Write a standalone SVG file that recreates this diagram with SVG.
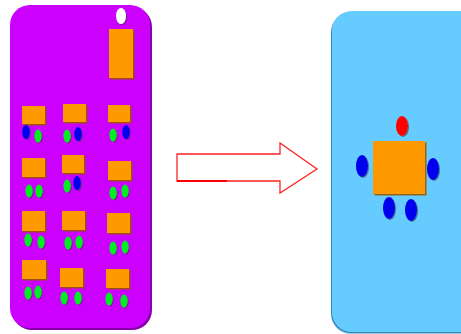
<svg xmlns="http://www.w3.org/2000/svg" width="461" height="334" viewBox="0 0 461 334">
  <style>
    .tbl { fill: #FF9900; filter: url(#sh); }
    .g { fill: #00EE22; filter: url(#shs); }
    .b { fill: #0000EE; filter: url(#shs); }
    .r { fill: #FF0000; filter: url(#shs); }
    .w { fill: #FFFFFF; filter: url(#shs); }
  </style>
  <defs>
    <filter id="sh" x="-20%" y="-20%" width="150%" height="150%">
      <feDropShadow dx="1.5" dy="1.5" stdDeviation="0.2" flood-color="#995500" flood-opacity="0.9"/>
    </filter>
    <filter id="shs" x="-40%" y="-30%" width="200%" height="170%">
      <feDropShadow dx="1" dy="1" stdDeviation="0.4" flood-color="#333333" flood-opacity="0.6"/>
    </filter>
    <filter id="psh" x="-5%" y="-5%" width="115%" height="115%">
      <feDropShadow dx="2" dy="2" stdDeviation="0.3" flood-color="#8800AA" flood-opacity="1"/>
    </filter>
    <filter id="bsh" x="-5%" y="-5%" width="115%" height="115%">
      <feDropShadow dx="-1" dy="1.5" stdDeviation="0.3" flood-color="#3388BB" flood-opacity="1"/>
    </filter>
  </defs>

  <rect width="461" height="334" fill="#FFFFFF"/>

  <!-- before: room with scattered tables -->
  <g id="room-before">
    <rect x="10" y="5" width="140" height="323" rx="20" ry="20" fill="#CC00FF" filter="url(#psh)"/>
    <ellipse class="w" cx="121" cy="16" rx="5" ry="8"/>
    <rect class="tbl" x="109" y="29" width="24" height="49"/>
  </g>

  <g id="table-1-1">
    <rect class="tbl" x="22" y="106" width="23" height="18"/>
    <ellipse class="b" cx="26" cy="132" rx="3.8" ry="7"/>
    <ellipse class="g" cx="38" cy="136" rx="3.6" ry="6.5"/>
  </g>
  <g id="table-1-2">
    <rect class="tbl" x="63" y="104" width="23" height="18"/>
    <ellipse class="g" cx="67" cy="136" rx="3.6" ry="6.5"/>
    <ellipse class="b" cx="78" cy="134" rx="3.8" ry="7"/>
  </g>
  <g id="table-1-3">
    <rect class="tbl" x="108" y="105" width="22" height="17"/>
    <ellipse class="g" cx="113" cy="135" rx="3.6" ry="6.5"/>
    <ellipse class="b" cx="126" cy="132" rx="3.8" ry="7"/>
  </g>

  <g id="table-2-1">
    <rect class="tbl" x="22" y="158" width="23" height="19"/>
    <ellipse class="g" cx="29" cy="191" rx="3.6" ry="6.5"/>
    <ellipse class="g" cx="39" cy="191" rx="3.6" ry="6.5"/>
  </g>
  <g id="table-2-2">
    <rect class="tbl" x="62" y="155" width="22" height="18"/>
    <ellipse class="g" cx="67" cy="186" rx="3.6" ry="6.5"/>
    <ellipse class="b" cx="77" cy="183" rx="3.8" ry="7"/>
  </g>
  <g id="table-2-3">
    <rect class="tbl" x="108" y="161" width="23" height="19"/>
    <ellipse class="g" cx="113" cy="193" rx="3.6" ry="6.5"/>
    <ellipse class="g" cx="125" cy="191" rx="3.6" ry="6.5"/>
  </g>

  <g id="table-3-1">
    <rect class="tbl" x="22" y="211" width="23" height="20"/>
    <ellipse class="g" cx="28" cy="240" rx="3.6" ry="6.5"/>
    <ellipse class="g" cx="41" cy="242" rx="3.6" ry="6.5"/>
  </g>
  <g id="table-3-2">
    <rect class="tbl" x="62" y="211" width="23" height="19"/>
    <ellipse class="g" cx="68" cy="243" rx="3.6" ry="6.5"/>
    <ellipse class="g" cx="79" cy="242" rx="3.6" ry="6.5"/>
  </g>
  <g id="table-3-3">
    <rect class="tbl" x="107" y="213" width="23" height="20"/>
    <ellipse class="g" cx="113" cy="248" rx="3.6" ry="6.5"/>
    <ellipse class="g" cx="125" cy="247" rx="3.6" ry="6.5"/>
  </g>

  <g id="table-4-1">
    <rect class="tbl" x="22" y="260" width="24" height="19"/>
    <ellipse class="g" cx="28" cy="293" rx="3.6" ry="6.5"/>
    <ellipse class="g" cx="38" cy="292" rx="3.6" ry="6.5"/>
  </g>
  <g id="table-4-2">
    <rect class="tbl" x="60" y="268" width="23" height="19"/>
    <ellipse class="g" cx="64" cy="298" rx="3.6" ry="6.5"/>
    <ellipse class="g" cx="78" cy="298" rx="3.6" ry="6.5"/>
  </g>
  <g id="table-4-3">
    <rect class="tbl" x="106" y="269" width="23" height="19"/>
    <ellipse class="g" cx="109" cy="299" rx="3.6" ry="6.5"/>
    <ellipse class="g" cx="124" cy="301" rx="3.6" ry="6.5"/>
  </g>

  <!-- after: single meeting table -->
  <g id="room-after">
    <rect x="332" y="11" width="150" height="321" rx="20" ry="20" fill="#66CCFF" filter="url(#bsh)"/>
    <rect class="tbl" x="373" y="141" width="52" height="53"/>
    <ellipse class="r" cx="402" cy="126" rx="6" ry="10"/>
    <ellipse class="b" cx="362" cy="166" rx="6" ry="11"/>
    <ellipse class="b" cx="433" cy="169" rx="6" ry="11"/>
    <ellipse class="b" cx="389" cy="208" rx="6" ry="11"/>
    <ellipse class="b" cx="411" cy="210" rx="6" ry="11"/>
  </g>

  <g id="connectors">
    <polygon points="177,154 280,154 280,143 317,169 280,193 280,181 177,181" fill="#FFFFFF" stroke="#FF2222" stroke-width="1.3" stroke-linejoin="miter"/>
    <line x1="177" y1="181" x2="227" y2="181" stroke="#FF0000" stroke-width="2.2"/>
  </g>
</svg>
